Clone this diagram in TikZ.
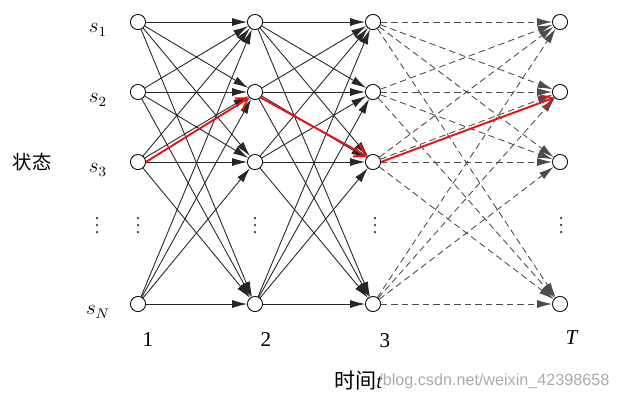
\documentclass[tikz,border=0pt]{standalone}
\usepackage{fontspec}
\setmainfont{Liberation Serif}
\newfontfamily\cjk{Noto Sans CJK SC}
\newfontfamily\wmfont{Liberation Sans}
\usepackage{xcolor}
\usepackage{tikz}
\usetikzlibrary{positioning, arrows.meta}
\definecolor{pathred}{RGB}{235,20,20}
\definecolor{wmgray}{RGB}{170,170,170}
\tikzset{
  hmmnode/.style={draw=black, thin, fill=white, circle, minimum size=0.3cm, inner sep=0pt},
  hmmedge/.style={draw=black!85, line width=0.5pt, -{Latex[length=3mm, width=1.6mm]}},
  hmmdash/.style={hmmedge, draw=black!70, dash pattern=on 1.3mm off 0.8mm},
  hmmred/.style={draw=pathred, line width=1.1pt, -{Straight Barb[length=2.2mm, width=2.8mm]}},
  hmmlabel/.style={font=\large},
  hmmdot/.style={fill=black!80, circle, minimum size=0.05cm, inner sep=0pt}
}

\begin{document}
\begin{tikzpicture}[x=0.02cm, y=-0.02cm]
  \useasboundingbox (0,0) rectangle (617,400);
  % states at each time step
  \foreach \c/\x in {1/138, 2/255, 3/373, 4/560}
    \foreach \r/\y in {1/22, 2/92, 3/162, 4/304}
      \node[hmmnode] (n\c\r) at (\x,\y) {};
  % transitions
  \foreach \a/\b in {1/2, 2/3}
    \foreach \i in {1,...,4}
      \foreach \j in {1,...,4}
        \draw[hmmedge] (n\a\i) -- (n\b\j);
  \foreach \i in {1,...,4}
    \foreach \j in {1,...,4}
      \draw[hmmdash] (n3\i) -- (n4\j);
  \foreach \c in {1,...,4}
    \foreach \r in {1,...,4}
      \node[hmmnode] at (n\c\r) {};
  % best path
  \draw[hmmred] (n13.east) -- (n22.south west);
  \draw[hmmred] (n22.south east) -- (n33.north west);
  \draw[hmmred] (n33.east) -- (n42.south west);
  % row labels
  \node[hmmlabel] (s1) at (98,30)  {$s_1$};
  \node[hmmlabel] (s2) at (98,100) {$s_2$};
  \node[hmmlabel] (s3) at (98,170) {$s_3$};
  \node[hmmlabel] (sN) at (98,312) {$s_N$};
  % vertical dots
  \foreach \x/\i in {97/0, 138/1, 255/2, 375/3, 561/4}
    \foreach \y/\k in {218/a, 225/b, 232/c}
      \node[hmmdot] (d\i\k) at (\x,\y) {};
  % column labels
  \node[hmmlabel] (t1) at (148,340) {1};
  \node[hmmlabel] (t2) at (266,340) {2};
  \node[hmmlabel] (t3) at (385,341) {3};
  \node[hmmlabel] (tT) at (572,338) {\textit{T}};
  \node[font=\cjk\fontsize{11}{13}\selectfont] (state) at (32,162) {状态};
  \node[font=\large, anchor=east, inner sep=0pt] (time) at (383,381) {{\cjk 时间}\textit{t}};
  \node[font=\wmfont\fontsize{9.2}{11}\selectfont, text=wmgray, anchor=west, inner sep=0pt] (wm) at (378,381) {/blog.csdn.net/weixin\_42398658};
\end{tikzpicture}
\end{document}
